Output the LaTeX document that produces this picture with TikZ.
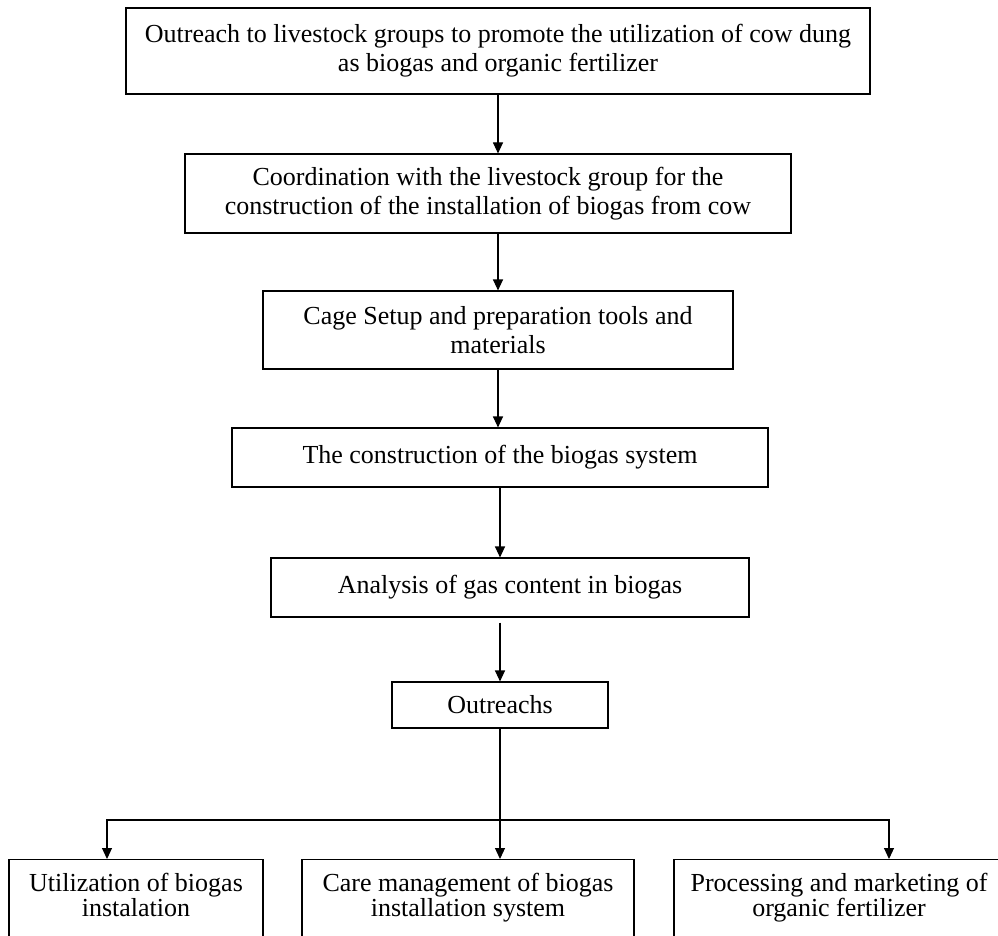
\documentclass[tikz,border=0pt]{standalone}
\usepackage{fontspec}
\setmainfont{Liberation Serif}
\usetikzlibrary{arrows.meta}

\begin{document}
\begin{tikzpicture}[x=1pt,y=-1pt,
  box/.style={draw,line width=1.1pt,align=center,inner sep=0pt,font=\fontsize{26}{29}\selectfont},
  lowbox/.style={draw,line width=1.1pt,anchor=north,align=flush center,inner xsep=0pt,inner ysep=14pt,text depth=90pt,font=\fontsize{26}{22}\selectfont},
  arr/.style={-{Triangle[width=10pt,length=11pt]},line width=1.1pt}]
\useasboundingbox (0,0) rectangle (998,936);
\clip (0,0) rectangle (998,936);
\node[box,minimum width=744,minimum height=86] (top) at (498,51) {Outreach to livestock groups to promote the utilization of cow dung\\as biogas and organic fertilizer};
\node[box,minimum width=606,minimum height=79] (coord) at (488,193.5) {Coordination with the livestock group for the\\construction of the installation of biogas from cow};
\node[box,minimum width=470,minimum height=78] (cage) at (498,330) {Cage Setup and preparation tools and\\materials};
\node[box,minimum width=536,minimum height=59] (build) at (500,457.5) {The construction of the biogas system};
\node[box,minimum width=478,minimum height=59] (analysis) at (510,587.5) {Analysis of gas content in biogas};
\node[box,minimum width=216,minimum height=46] (outreach) at (500,705) {Outreachs};
\node[lowbox,text width=254] (use) at (136,859) {Utilization of biogas\\instalation};
\node[lowbox,text width=332] (care) at (468,859) {Care management of biogas\\installation system};
\node[lowbox,text width=330] (process) at (839,859) {Processing and marketing of\\organic fertilizer};
\coordinate (split) at (500,820);
% steps
\draw[arr] (top.south) -- (top.south |- coord.north);
\draw[arr] (cage.north |- coord.south) -- (cage.north);
\draw[arr] (cage.south) -- (cage.south |- build.north);
\draw[arr] (build.south) -- (build.south |- analysis.north);
\draw[arr,shorten <=5pt] (outreach.north |- analysis.south) -- (outreach.north);
% three branches
\draw[arr] (outreach.south) -- (outreach.south |- care.north);
\draw[arr] (split) -| ([xshift=-29pt]use.north);
\draw[arr] (split) -| ([xshift=50pt]process.north);
\end{tikzpicture}
\end{document}
